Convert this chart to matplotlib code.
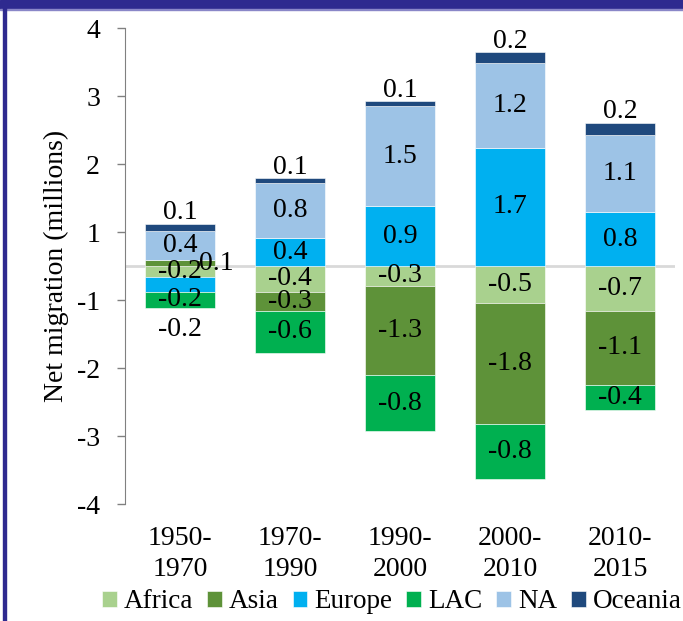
import matplotlib
matplotlib.use("Agg")
import matplotlib.pyplot as plt
import numpy as np
from matplotlib.patches import Rectangle

plt.rcParams['font.family'] = ['Liberation Serif', 'DejaVu Serif']

periods = ["1950-\n1970", "1970-\n1990", "1990-\n2000", "2000-\n2010", "2010-\n2015"]
series_names = ["Africa", "Asia", "Europe", "LAC", "NA", "Oceania"]
africa = [-0.16, -0.38, -0.29, -0.54, -0.66]
asia = [0.09, -0.28, -1.32, -1.78, -1.09]
europe = [-0.22, 0.41, 0.88, 1.74, 0.79]
lac = [-0.24, -0.62, -0.81, -0.81, -0.37]
na = [0.43, 0.81, 1.47, 1.24, 1.14]
oceania = [0.10, 0.07, 0.07, 0.16, 0.18]
colors = ["#A9D18E", "#5E9239", "#00B0F0", "#00B050", "#9DC3E6", "#1F497D"]

ytick_vals = [3.5, 2.5, 1.5, 0.5, -0.5, -1.5, -2.5, -3.5]
ytick_labels = ["4", "3", "2", "1", "-1", "-2", "-3", "-4"]

data = [africa, asia, europe, lac, na, oceania]

fig = plt.figure(figsize=(6.83, 6.21), dpi=100)
ax = fig.add_axes([125/683, 1-504/621, 550/683, 476/621])

x = np.arange(len(periods))
pos_bottom = np.zeros(len(periods))
neg_bottom = np.zeros(len(periods))
fs = 20
for si, (name, vals, col) in enumerate(zip(series_names, data, colors)):
    vals = np.array(vals)
    bottoms = np.where(vals >= 0, pos_bottom, neg_bottom)
    ax.bar(x, vals, 0.64, bottom=bottoms, color=col, edgecolor='white',
           linewidth=0.4, label=name, zorder=3)
    for i, v in enumerate(vals):
        lab = f"{v:.1f}"
        cy = bottoms[i] + v / 2
        cx = x[i]
        if name == "Oceania":
            ax.annotate(lab, (cx, bottoms[i] + v), xytext=(0, 8), textcoords='offset points',
                        ha='center', va='center', fontsize=fs, zorder=5)
            continue
        if i == 0 and name == "Asia":
            cx = x[i] + 0.33
            cy = bottoms[i] + v / 2 - 0.01
        if i == 0 and name == "Europe":
            cy = -0.94
        ax.text(cx, cy, lab, ha='center', va='center', fontsize=fs, zorder=5)
    pos_bottom = pos_bottom + np.where(vals >= 0, vals, 0)
    neg_bottom = neg_bottom + np.where(vals < 0, vals, 0)

ax.axhline(0, color='#D9D9D9', lw=2, zorder=2)
ax.set_xlim(-0.5, len(periods) - 0.5)
ax.set_ylim(-3.5, 3.5)
ax.set_yticks(ytick_vals)
ax.set_yticklabels(ytick_labels, fontsize=fs)
ax.set_xticks(x)
ax.set_xticklabels(periods, fontsize=fs, linespacing=1.32)
ax.tick_params(axis='x', length=0, pad=16)
ax.tick_params(axis='y', length=6, width=1, color='#808080', pad=12)
for s in ['top', 'right', 'bottom']:
    ax.spines[s].set_visible(False)
ax.spines['left'].set_color('#808080')
ax.set_ylabel("Net migration (millions)", fontsize=fs, labelpad=6)

leg = fig.legend(loc='center', bbox_to_anchor=(392/683, 1-602/621), ncol=6, frameon=False,
                 fontsize=19.5, handlelength=0.55, handleheight=0.55, handletextpad=0.27,
                 columnspacing=0.5, borderpad=0)

# frame decoration
fig.patches.append(Rectangle((0, 1-9/621), 1, 9/621, transform=fig.transFigure,
                             color='#2E2A8F', zorder=10))
fig.patches.append(Rectangle((0, 1-10/621), 1, 1.2/621, transform=fig.transFigure,
                             color='#8A87C8', zorder=10))
fig.patches.append(Rectangle((3/683, 0), 2.5/683, 1, transform=fig.transFigure,
                             color='#2E2A8F', zorder=10))

fig.savefig("out.png", dpi=100)
